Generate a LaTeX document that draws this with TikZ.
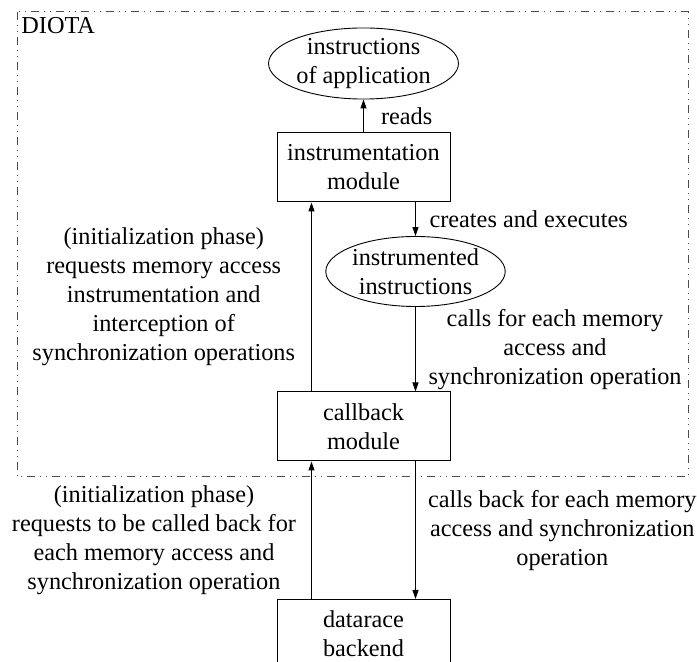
\documentclass[tikz,border=0pt]{standalone}
\usepackage{fontspec}
\setmainfont{Liberation Serif}
\usepackage{tikz}
\usetikzlibrary{positioning, arrows.meta, shapes.geometric}

\begin{document}
\begin{tikzpicture}[x=0.5pt, y=-0.5pt, font=\fontsize{12.15}{14.5}\selectfont,
  module/.style={draw, line width=0.5pt, minimum width=86.5pt, minimum height=34.5pt, inner sep=0pt, align=center},
  code/.style={draw, ellipse, line width=0.45pt, minimum width=86.5pt, minimum height=35pt, inner sep=0pt, align=center},
  note/.style={inner sep=0pt, align=center},
  calls/.style={-{Triangle[length=4.5pt, width=3pt]}, line width=0.5pt},
  frame/.style={black!70, line width=0.5pt, dash pattern=on 4pt off 2.5pt on 0.5pt off 2.5pt on 0.5pt off 2.5pt}]
  \def\lane{17.5pt}
  \clip (0,0) rectangle (697,662);
  % DIOTA part
  \draw[frame] (17,12) rectangle (688,477);
  \node[anchor=base west, inner sep=0pt] (diota) at (21,34) {DIOTA};
  \node[code] (app) at (363.5,63.5) {instructions\\of application};
  \node[module] (instr) at (363.5,167.5) {instrumentation\\module};
  \node[code] (instd) at (415.5,271.5) {instrumented\\instructions};
  \node[module] (cb) at (363.5,426.5) {callback\\module};
  % backend, cut by the page edge
  \node[module, anchor=north] (race) at (363.5,599) {datarace\\backend};

  \draw[calls] (instr) -- (app)
        node[note, midway, anchor=west, xshift=8.5pt] {reads};
  \draw[calls] (instr.south -| instd) -- (instd)
        node[note, midway, anchor=west, xshift=6.75pt] {creates and executes};
  \draw[calls] (instd) -- (instd |- cb.north)
        node[note, midway, anchor=west, xshift=6.25pt] {calls for each memory\\access and\\synchronization operation};
  \draw[calls] ([xshift=\lane]cb.north west) -- ([xshift=\lane]instr.south west)
        node[note, midway, anchor=east, xshift=-8pt] {(initialization phase)\\requests memory access\\instrumentation and\\interception of\\synchronization operations};
  \draw[calls] ([xshift=\lane]race.north west) -- ([xshift=\lane]cb.south west)
        node[note, midway, anchor=east, xshift=-7.5pt, yshift=-5pt] {(initialization phase)\\requests to be called back for\\each memory access and\\synchronization operation};
  \draw[calls] (cb.south -| instd) -- (race.north -| instd)
        node[note, midway, anchor=west, xshift=6pt] {calls back for each memory\\access and synchronization\\operation};
\end{tikzpicture}
\end{document}
